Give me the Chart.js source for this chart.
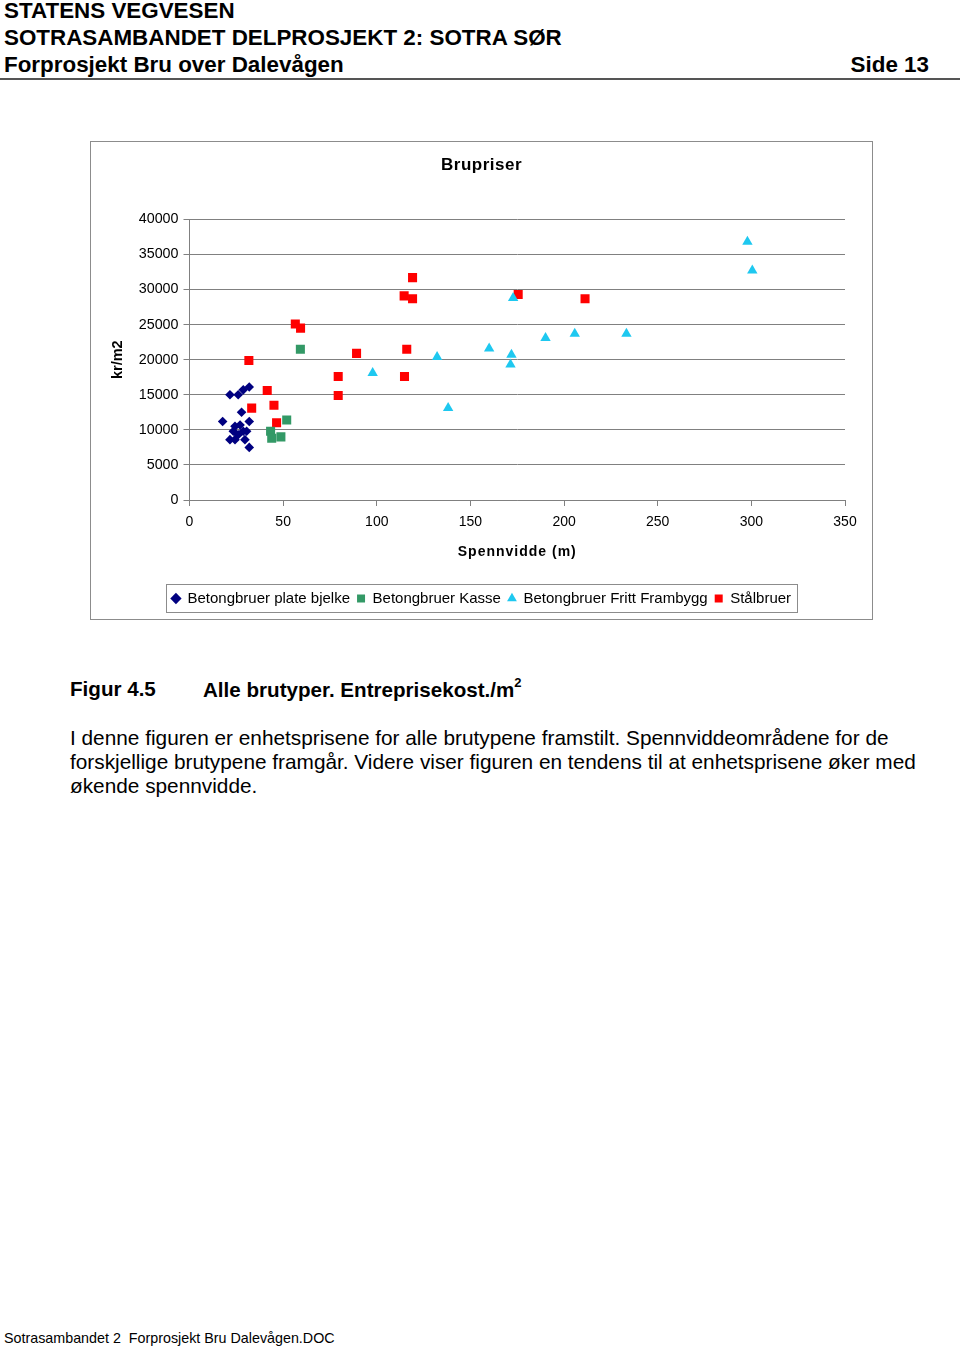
<!DOCTYPE html>
<html>
<head>
<meta charset="utf-8">
<script src="https://cdn.jsdelivr.net/npm/chart.js@4"></script>
<style>
  body { margin: 0; width: 960px; height: 1347px; background: #fff; font-family: "Liberation Sans", Arial, sans-serif; color: #000; position: relative; overflow: hidden; }
  .hdr { position: absolute; left: 4px; font-weight: bold; font-size: 22.4px; line-height: 27px; }
  .rule { position: absolute; left: 0; top: 78px; width: 960px; height: 0; border-top: 2px solid #555; }
  #box { position: absolute; left: 90px; top: 141px; width: 783px; height: 479px; border: 1px solid #8c8c8c; box-sizing: border-box; }
  #box canvas { position: absolute; left: 0; top: 0; }
  .cap { position: absolute; top: 677px; font-weight: bold; font-size: 20.6px; }
  .cap sup { font-size: 13px; position: relative; top: -2px; }
  .para { position: absolute; left: 70px; top: 726px; font-size: 20.8px; line-height: 24px; white-space: nowrap; }
  .foot { position: absolute; left: 4px; top: 1330px; font-size: 14.3px; }
</style>
</head>
<body>
<div class="hdr" style="top:-3px">STATENS VEGVESEN</div>
<div class="hdr" style="top:24px">SOTRASAMBANDET DELPROSJEKT 2: SOTRA SØR</div>
<div class="hdr" style="top:51px">Forprosjekt Bru over Dalevågen</div>
<div class="hdr" style="top:51px; left:auto; right:31px">Side 13</div>
<div class="rule"></div>

<div id="box"><canvas id="chart" width="781" height="477" style="width:781px;height:477px"></canvas></div>

<div class="cap" style="left:70px">Figur 4.5</div>
<div class="cap" style="left:203px">Alle brutyper. Entreprisekost./m<sup>2</sup></div>
<div class="para">I denne figuren er enhetsprisene for alle brutypene framstilt. Spennviddeområdene for de<br>forskjellige brutypene framgår. Videre viser figuren en tendens til at enhetsprisene øker med<br>økende spennvidde.</div>
<div class="foot">Sotrasambandet 2&nbsp; Forprosjekt Bru Dalevågen.DOC</div>

<script>
const seriesNames = ["Betongbruer plate bjelke", "Betongbruer Kasse", "Betongbruer Fritt Frambygg", "Stålbruer"];

const plateSpan = [21.6, 26, 28.7, 31.9, 27.8, 17.7, 31.9, 24.3, 27, 23.4, 28.7, 30.5, 26, 21.6, 24.3, 29.6, 31.9];
const plateCost = [15000, 15000, 15700, 16100, 12500, 11200, 11200, 10500, 10700, 9800, 9800, 9800, 9300, 8600, 8600, 8600, 7500];

const kasseSpan = [59.2, 51.9, 43.3, 43.9, 48.8];
const kasseCost = [21500, 11400, 9800, 8800, 9000];

const frittSpan = [97.8, 132.2, 138.1, 160, 171.9, 171.4, 172.8, 190.1, 205.7, 233.3, 297.9, 300.5];
const frittCost = [18100, 20400, 13100, 21600, 20700, 19300, 28800, 23100, 23700, 23700, 36800, 32700];

const stalSpan = [31.7, 33.2, 41.5, 45.1, 46.5, 56.5, 59.3, 79.4, 79.4, 89.2, 114.8, 116, 114.6, 119.1, 119.1, 175.5, 211.2];
const stalCost = [19900, 13100, 15600, 13500, 11000, 25100, 24500, 17600, 14900, 20900, 17600, 21500, 29100, 28700, 31700, 29300, 28700];

const xTicks = [0, 50, 100, 150, 200, 250, 300, 350];
const yTicks = [0, 5000, 10000, 15000, 20000, 25000, 30000, 35000, 40000];

const pts = (xs, ys) => xs.map((x, i) => ({ x, y: ys[i] }));
const font = "'Liberation Sans', Arial, sans-serif";
const gridCol = '#808080';

// wraps a draw method so its text gets a little letter spacing
function spaced(obj, method, spacing) {
  if (!obj || obj['_sp_' + method]) return;
  const orig = obj[method];
  obj[method] = function (...args) {
    const ctx = this.ctx;
    ctx.save();
    ctx.letterSpacing = spacing;
    const r = orig.apply(this, args);
    ctx.restore();
    return r;
  };
  obj['_sp_' + method] = true;
}

const textTweaks = {
  id: 'textTweaks',
  afterLayout(chart) {
    spaced(chart.scales.x, 'drawTitle', '1px');
    spaced(chart.titleBlock, 'draw', '0.5px');
  }
};

// draws the frame round the legend, like the Excel chart
const legendFrame = {
  id: 'legendFrame',
  afterDraw(chart) {
    const boxes = chart.legend.legendHitBoxes;
    if (!boxes || !boxes.length) return;
    const l = Math.min(...boxes.map(b => b.left)) - 6;
    const r = Math.max(...boxes.map(b => b.left + b.width)) + 6;
    const t = Math.min(...boxes.map(b => b.top)) - 7;
    const btm = Math.max(...boxes.map(b => b.top + b.height)) + 6;
    const ctx = chart.ctx;
    ctx.save();
    ctx.strokeStyle = '#8c8c8c';
    ctx.lineWidth = 1;
    ctx.strokeRect(Math.round(l) + 0.5, Math.round(t) + 0.5, Math.round(r - l), Math.round(btm - t));
    ctx.restore();
  }
};

new Chart(document.getElementById('chart'), {
  type: 'scatter',
  data: {
    datasets: [
      { label: seriesNames[0], data: pts(plateSpan, plateCost), pointStyle: 'rectRot', pointRadius: 4.8, backgroundColor: '#000080', borderColor: '#000080', borderWidth: 0 },
      { label: seriesNames[1], data: pts(kasseSpan, kasseCost), pointStyle: 'rect', pointRadius: 6.4, backgroundColor: '#339966', borderColor: '#339966', borderWidth: 0 },
      { label: seriesNames[2], data: pts(frittSpan, frittCost), pointStyle: 'triangle', pointRadius: 6, backgroundColor: '#1ec8f0', borderColor: '#1ec8f0', borderWidth: 0 },
      { label: seriesNames[3], data: pts(stalSpan, stalCost), pointStyle: 'rect', pointRadius: 6.4, backgroundColor: '#ff0000', borderColor: '#ff0000', borderWidth: 0 }
    ]
  },
  options: {
    responsive: false,
    animation: false,
    devicePixelRatio: 1,
    layout: { padding: { left: 0, right: 0, top: 0, bottom: 3 } },
    scales: {
      x: {
        type: 'linear', min: 0, max: 350,
        afterBuildTicks: (s) => { s.ticks = xTicks.map(v => ({ value: v })); },
        afterFit: (s) => { s.height = 84; s.paddingRight = 27; },
        grid: { drawOnChartArea: false, drawTicks: true, tickLength: 6, color: gridCol, tickColor: gridCol },
        border: { color: gridCol },
        ticks: { color: '#000', font: { family: font, size: 14 }, padding: 8, maxRotation: 0 },
        title: { display: true, text: 'Spennvidde (m)', color: '#000', font: { family: font, size: 14, weight: 'bold' }, padding: { top: 4, bottom: 23 } }
      },
      y: {
        type: 'linear', min: 0, max: 40000,
        afterBuildTicks: (s) => { s.ticks = yTicks.map(v => ({ value: v })); },
        afterFit: (s) => { s.width = 98.5; },
        grid: { color: gridCol, tickColor: gridCol, tickLength: 6 },
        border: { color: gridCol },
        ticks: { color: '#000', font: { family: font, size: 14.3 }, padding: 5, callback: (v) => String(v) },
        title: { display: true, text: 'kr/m2', color: '#000', font: { family: font, size: 14.5, weight: 'bold' }, padding: { top: 18, bottom: 0 } }
      }
    },
    plugins: {
      title: { display: true, text: 'Brupriser', color: '#000', font: { family: font, size: 17, weight: 'bold' }, padding: { top: 13, bottom: 44 } },
      legend: {
        position: 'bottom',
        labels: { usePointStyle: true, boxWidth: 8, boxHeight: 8, padding: 7, color: '#000', font: { family: font, size: 15 } }
      },
      tooltip: { enabled: false }
    }
  },
  plugins: [textTweaks, legendFrame]
});
</script>
</body>
</html>
